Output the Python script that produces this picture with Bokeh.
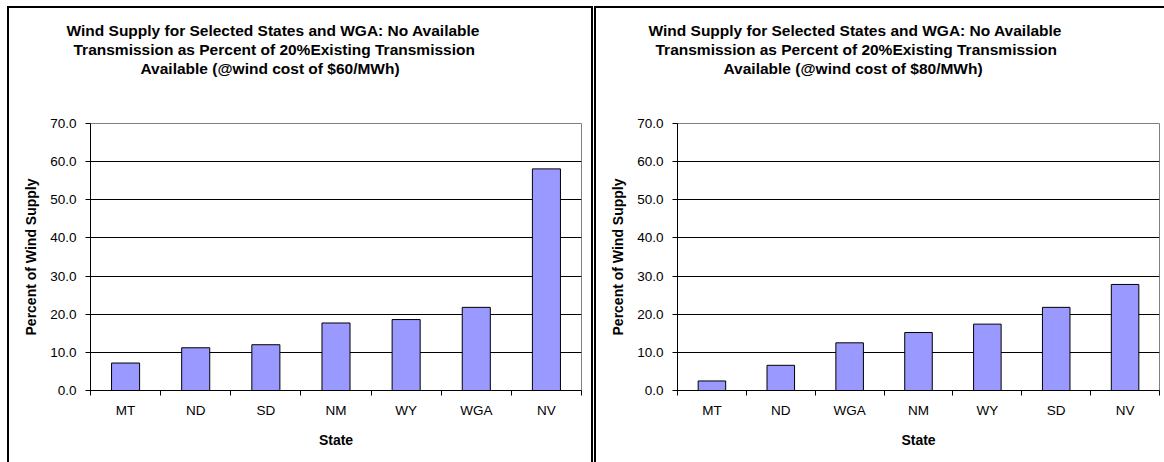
from bokeh.plotting import figure
from bokeh.models import (Range1d, FixedTicker, PrintfTickFormatter, Title,
                          ColumnDataSource, Spacer)
from bokeh.layouts import row, column
from bokeh.embed import file_html
from bokeh.resources import INLINE

# ---------------- data ----------------
states_60 = ["MT", "ND", "SD", "NM", "WY", "WGA", "NV"]
values_60 = [7.2, 11.2, 12.0, 17.7, 18.6, 21.8, 58.1]

states_80 = ["MT", "ND", "WGA", "NM", "WY", "SD", "NV"]
values_80 = [2.5, 6.6, 12.5, 15.2, 17.4, 21.8, 27.8]

y_ticks = [0, 10, 20, 30, 40, 50, 60, 70]
title_60 = ["Wind Supply for Selected States and WGA: No Available",
            "Transmission as Percent of 20%Existing Transmission",
            "Available (@wind cost of $60/MWh)"]
title_80 = ["Wind Supply for Selected States and WGA: No Available",
            "Transmission as Percent of 20%Existing Transmission",
            "Available (@wind cost of $80/MWh)"]
y_label = "Percent of Wind Supply"
x_label = "State"

FONT = "Liberation Sans"
H = 454   # figure height (below the panel's top border line)


def make_panel(states, values, title_lines, width, left, right, line_offsets):
    n = len(states)
    pos = [i + 0.5 for i in range(n)]
    src = ColumnDataSource(dict(x=pos, top=values))
    p = figure(width=width, height=H, output_backend="svg", toolbar_location=None,
               x_range=Range1d(0, n), y_range=Range1d(y_ticks[0], y_ticks[-1]),
               min_border_left=left, min_border_right=right,
               min_border_top=115, min_border_bottom=72,
               background_fill_color="white", border_fill_color="white")
    p.outline_line_color = "#808080"
    p.outline_line_width = 1

    p.vbar(x="x", top="top", bottom=0, width=0.4, source=src,
           fill_color="#9999FF", line_color="black", line_width=1)

    # y axis
    p.yaxis.ticker = FixedTicker(ticks=y_ticks, minor_ticks=[])
    p.yaxis.formatter = PrintfTickFormatter(format="%.1f")
    p.yaxis.major_tick_in = 0
    p.yaxis.major_tick_out = 5
    p.yaxis.minor_tick_line_color = None
    p.yaxis.major_label_standoff = 9
    p.yaxis.axis_label = y_label
    p.yaxis.axis_label_standoff = 8
    p.yaxis.axis_line_color = "black"
    p.yaxis.major_tick_line_color = "black"

    # x axis: labels at bar centers, ticks at category boundaries
    p.xaxis.ticker = FixedTicker(ticks=pos, minor_ticks=list(range(n + 1)))
    p.xaxis.major_label_overrides = {v: s for v, s in zip(pos, states)}
    p.xaxis.major_tick_line_color = None
    p.xaxis.major_tick_in = 0
    p.xaxis.major_tick_out = 0
    p.xaxis.minor_tick_in = 0
    p.xaxis.minor_tick_out = 5
    p.xaxis.minor_tick_line_color = "black"
    p.xaxis.major_label_standoff = 7
    p.xaxis.axis_label = x_label
    p.xaxis.axis_label_standoff = 11
    p.xaxis.axis_line_color = "black"

    for ax in (p.xaxis, p.yaxis):
        ax.major_label_text_font = FONT
        ax.major_label_text_font_size = "13.5px"
        ax.major_label_text_color = "black"
        ax.axis_label_text_font = FONT
        ax.axis_label_text_font_size = "14px"
        ax.axis_label_text_font_style = "bold"
        ax.axis_label_text_color = "black"

    p.xgrid.grid_line_color = None
    p.ygrid.ticker = FixedTicker(ticks=y_ticks)
    p.ygrid.grid_line_color = "black"
    p.ygrid.grid_line_width = 1

    # blank spacer title between the frame and the title block
    p.add_layout(Title(text=" ", standoff=28, text_font=FONT,
                       text_font_size="15.5px"), "above")
    # title: one Title per line, added bottom line first (closest to the frame)
    for txt, off in reversed(list(zip(title_lines, line_offsets))):
        p.add_layout(Title(text=txt, align="left", offset=off, standoff=0,
                           text_font=FONT, text_font_size="15.5px",
                           text_font_style="bold", text_color="black"), "above")
    return p


def bar(w, h):
    return Spacer(width=w, height=h, margin=0, styles={"background-color": "black"})


def gap(w, h):
    return Spacer(width=w, height=h, margin=0)


p1 = make_panel(states_60, values_60, title_60, 582, 81, 10, [-24, -17, 50])
p2 = make_panel(states_80, values_80, title_80, 568, 81, 5, [-29, -22, 46])

TOP = 6
layout = row(
    gap(7, 462),
    column(gap(2, TOP), bar(2, 462 - TOP), spacing=0),
    column(gap(582, TOP), bar(582, 2), p1, spacing=0),
    column(gap(2, TOP), bar(2, 462 - TOP), spacing=0),
    gap(1, 462),
    column(gap(2, TOP), bar(2, 462 - TOP), spacing=0),
    column(gap(568, TOP), bar(568, 2), p2, spacing=0),
    spacing=0,
)
open("out.html", "w").write(file_html(layout, INLINE))
